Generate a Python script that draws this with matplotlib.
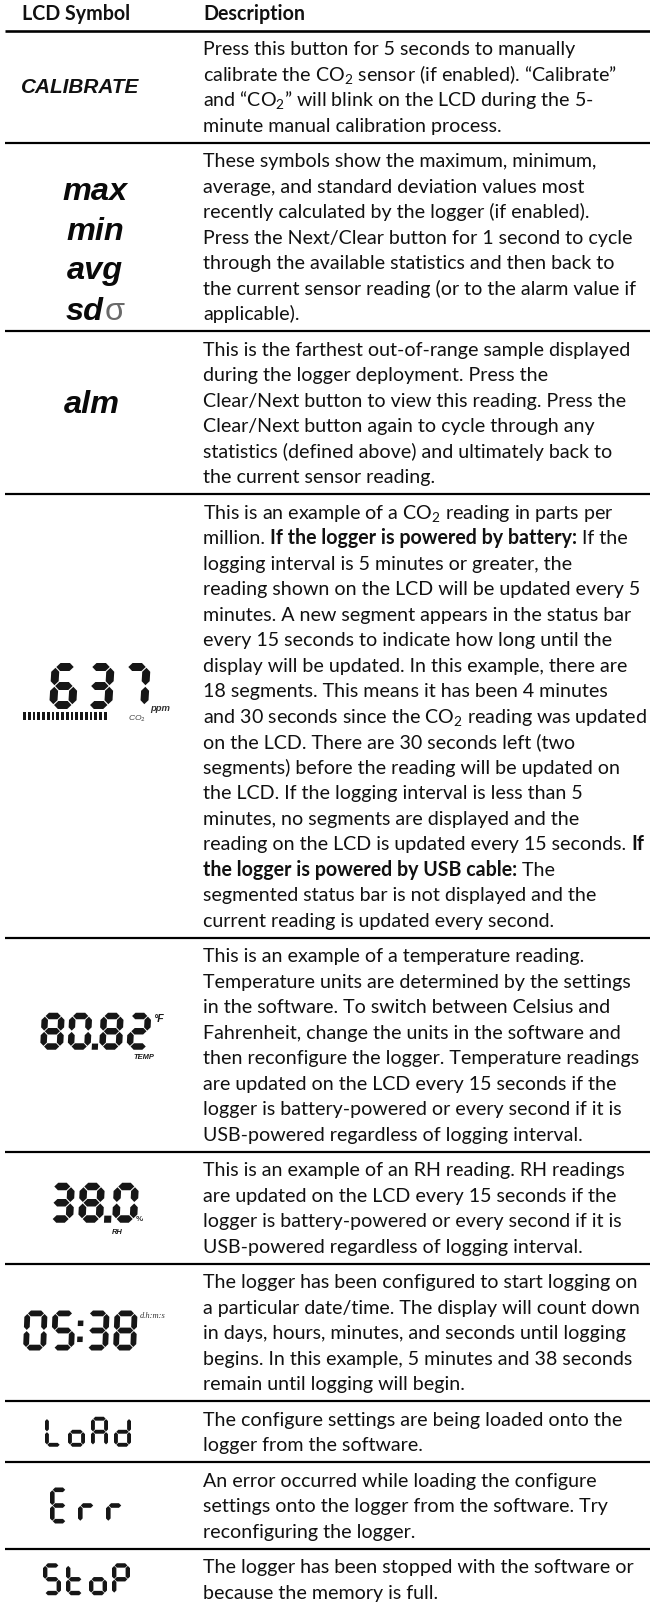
import matplotlib
matplotlib.use("Agg")
import matplotlib.pyplot as plt
from matplotlib.patches import Polygon, Rectangle

# ---------------- data ----------------
header = ["LCD Symbol", "Description"]

calibrate_label = "CALIBRATE"
stat_labels = ["max", "min", "avg", "sd"]
sigma_label = "σ"
alarm_label = "alm"
co2_reading = "637"
co2_status_segments = 18
temp_reading = "80.82"
rh_reading = "38.0"
countdown_reading = "05:38"
status_words = ["LoAd", "Err", "StoP"]

desc_calibrate = [
    "Press this button for 5 seconds to manually",
    "calibrate the CO$_\\mathrm{2}$ sensor (if enabled). “Calibrate”",
    "and “CO$_\\mathrm{2}$” will blink on the LCD during the 5-",
    "minute manual calibration process.",
]
desc_stats = [
    "These symbols show the maximum, minimum,",
    "average, and standard deviation values most",
    "recently calculated by the logger (if enabled).",
    "Press the Next/Clear button for 1 second to cycle",
    "through the available statistics and then back to",
    "the current sensor reading (or to the alarm value if",
    "applicable).",
]
desc_alarm = [
    "This is the farthest out-of-range sample displayed",
    "during the logger deployment. Press the",
    "Clear/Next button to view this reading. Press the",
    "Clear/Next button again to cycle through any",
    "statistics (defined above) and ultimately back to",
    "the current sensor reading.",
]
desc_co2 = [
    "This is an example of a CO$_\\mathrm{2}$ reading in parts per",
    "million. **If the logger is powered by battery:** If the",
    "logging interval is 5 minutes or greater, the",
    "reading shown on the LCD will be updated every 5",
    "minutes. A new segment appears in the status bar",
    "every 15 seconds to indicate how long until the",
    "display will be updated. In this example, there are",
    "18 segments. This means it has been 4 minutes",
    "and 30 seconds since the CO$_\\mathrm{2}$ reading was updated",
    "on the LCD. There are 30 seconds left (two",
    "segments) before the reading will be updated on",
    "the LCD. If the logging interval is less than 5",
    "minutes, no segments are displayed and the",
    "reading on the LCD is updated every 15 seconds. **If**",
    "**the logger is powered by USB cable:** The",
    "segmented status bar is not displayed and the",
    "current reading is updated every second.",
]
desc_temp = [
    "This is an example of a temperature reading.",
    "Temperature units are determined by the settings",
    "in the software. To switch between Celsius and",
    "Fahrenheit, change the units in the software and",
    "then reconfigure the logger. Temperature readings",
    "are updated on the LCD every 15 seconds if the",
    "logger is battery-powered or every second if it is",
    "USB-powered regardless of logging interval.",
]
desc_rh = [
    "This is an example of an RH reading. RH readings",
    "are updated on the LCD every 15 seconds if the",
    "logger is battery-powered or every second if it is",
    "USB-powered regardless of logging interval.",
]
desc_countdown = [
    "The logger has been configured to start logging on",
    "a particular date/time. The display will count down",
    "in days, hours, minutes, and seconds until logging",
    "begins. In this example, 5 minutes and 38 seconds",
    "remain until logging will begin.",
]
desc_load = [
    "The configure settings are being loaded onto the",
    "logger from the software.",
]
desc_err = [
    "An error occurred while loading the configure",
    "settings onto the logger from the software. Try",
    "reconfiguring the logger.",
]
desc_stop = [
    "The logger has been stopped with the software or",
    "because the memory is full.",
]
descriptions = [desc_calibrate, desc_stats, desc_alarm, desc_co2, desc_temp,
                desc_rh, desc_countdown, desc_load, desc_err, desc_stop]

# ---------------- style ----------------
W, H, DPI = 650, 1606, 100
BODY = "Lato"
SYMF = "Liberation Sans"
TXT = "#111111"
LCD = "#161616"
PITCH = 25.5
GAP = 10.0
HEADER_CY = 14.0
X_SYM = 22
X_DESC = 203
DESC_WIDTH = 445

plt.rcParams["mathtext.fontset"] = "custom"
plt.rcParams["mathtext.rm"] = BODY
plt.rcParams["mathtext.it"] = BODY + ":italic"
plt.rcParams["mathtext.bf"] = BODY + ":bold"

fig = plt.figure(figsize=(W / DPI, H / DPI), dpi=DPI)
ax = fig.add_axes([0, 0, 1, 1])
ax.set_xlim(0, W)
ax.set_ylim(H, 0)
ax.axis("off")
renderer = fig.canvas.get_renderer()


def px2pt(px):
    return px * 72.0 / DPI


def text_w(s, size, weight="normal", family=BODY, style="normal"):
    t = ax.text(0, 0, s, fontsize=size, fontweight=weight, family=family, fontstyle=style)
    w = t.get_window_extent(renderer).width
    t.remove()
    return w


def run_w(s, size, weight):
    return text_w("|" + s + "|", size, weight) - text_w("||", size, weight)


# fit body font so the widest line fills the description column
all_lines = [ln.replace("**", "") for d in descriptions for ln in d]
test = 14.0
maxw = max(text_w(ln, test) for ln in all_lines)
FS = test * DESC_WIDTH / maxw
FS_PX = FS * DPI / 72.0


def baseline(cy):
    return cy + 0.30 * FS_PX


def draw_line(x, cy, line):
    parts = line.split("**")
    y = baseline(cy)
    for i, part in enumerate(parts):
        if not part:
            continue
        weight = "bold" if i % 2 == 1 else "normal"
        ax.text(x, y, part, fontsize=FS, fontweight=weight, family=BODY,
                va="baseline", ha="left", color=TXT)
        x += run_w(part, FS, weight)


def hline(y, lw_px=2.2):
    ax.plot([5, W], [y, y], color="black", lw=lw_px * 72 / DPI, solid_capstyle="butt")


# ---------------- seven segment ----------------
SEGS = {"0": "abcdef", "1": "bc", "2": "abdeg", "3": "abcdg", "4": "bcfg", "5": "acdfg",
        "6": "acdefg", "7": "abc", "8": "abcdefg", "9": "abcdfg", "L": "def", "o": "cdeg",
        "A": "abcefg", "d": "bcdeg", "E": "adefg", "r": "eg", "S": "acdfg", "t": "defg",
        "P": "abefg"}


def hseg(xa, xb, yc, t):
    return [(xa, yc), (xa + t / 2, yc - t / 2), (xb - t / 2, yc - t / 2), (xb, yc),
            (xb - t / 2, yc + t / 2), (xa + t / 2, yc + t / 2)]


def vseg(xc, ya, yb, t):
    return [(xc, ya), (xc + t / 2, ya + t / 2), (xc + t / 2, yb - t / 2), (xc, yb),
            (xc - t / 2, yb - t / 2), (xc - t / 2, ya + t / 2)]


def draw_lcd(text, x0, ytop, w, h, t, pitch, slant=0.0, dot_adv=4.0, gap=None):
    gap = t * 0.10 if gap is None else gap
    ybot = ytop + h

    def sk(pts):
        return [(px + slant * (ybot - py), py) for px, py in pts]

    x = x0
    for ch in text:
        if ch in ".:":
            gx0 = x - (pitch - w)
            gx1 = x + dot_adv
            cx = (gx0 + gx1) / 2
            d = t * 0.95
            ys = [ybot - d / 2] if ch == "." else [ytop + h * 0.32, ytop + h * 0.72]
            for yy in ys:
                sq = [(cx - d / 2, yy - d / 2), (cx + d / 2, yy - d / 2),
                      (cx + d / 2, yy + d / 2), (cx - d / 2, yy + d / 2)]
                ax.add_patch(Polygon(sk(sq), closed=True, fc=LCD, lw=0))
            x += dot_adv
            continue
        xl = x + t / 2
        xr = x + w - t / 2
        yt = ytop + t / 2
        ym = ytop + h / 2
        yb = ybot - t / 2
        geo = {
            "a": hseg(xl + gap, xr - gap, yt, t),
            "b": vseg(xr, yt + gap, ym - gap, t),
            "c": vseg(xr, ym + gap, yb - gap, t),
            "d": hseg(xl + gap, xr - gap, yb, t),
            "e": vseg(xl, ym + gap, yb - gap, t),
            "f": vseg(xl, yt + gap, ym - gap, t),
            "g": hseg(xl + gap, xr - gap, ym, t),
        }
        for s in SEGS[ch]:
            ax.add_patch(Polygon(sk(geo[s]), closed=True, fc=LCD, lw=0))
        x += pitch


# ---------------- layout ----------------
ax.text(X_SYM, baseline(HEADER_CY), header[0], fontsize=FS, fontweight="bold",
        family=BODY, va="baseline", color=TXT)
ax.text(X_DESC, baseline(HEADER_CY), header[1], fontsize=FS, fontweight="bold",
        family=BODY, va="baseline", color=TXT)
y = HEADER_CY + PITCH / 2 + GAP / 2
hline(y, 2.6)

row_centers = []
for d in descriptions:
    top = y
    cy = top + GAP / 2 + PITCH / 2
    for ln in d:
        draw_line(X_DESC, cy, ln)
        cy += PITCH
    y = top + len(d) * PITCH + GAP
    row_centers.append((top + y) / 2)
    if d is not descriptions[-1]:
        hline(y)

rc = row_centers
SYM_COL = "#0a0a0a"

# CALIBRATE
ax.text(80, rc[0], calibrate_label, fontsize=px2pt(20.8), fontweight="bold",
        fontstyle="italic", family=SYMF, ha="center", va="center", color="#111111")

# statistics
stat_size = px2pt(32.5)
for i, lab in enumerate(stat_labels):
    cy = rc[1] + 10 + (i - 1.5) * 40
    if lab == "sd":
        w1 = text_w(lab, stat_size, "bold", SYMF, "italic")
        w2 = text_w(sigma_label, stat_size, "normal", SYMF)
        x0 = 95 - (w1 + w2) / 2
        ax.text(x0, cy, lab, fontsize=stat_size, fontweight="bold", fontstyle="italic",
                family=SYMF, ha="left", va="center_baseline", color=SYM_COL)
        ax.text(x0 + w1 + 1, cy, sigma_label, fontsize=stat_size, family=SYMF,
                ha="left", va="center_baseline", color="#6a6a6a")
    else:
        ax.text(95, cy, lab, fontsize=stat_size, fontweight="bold", fontstyle="italic",
                family=SYMF, ha="center", va="center_baseline", color=SYM_COL)

# alm
ax.text(92, rc[2] - 12, alarm_label, fontsize=stat_size, fontweight="bold",
        fontstyle="italic", family=SYMF, ha="center", va="center_baseline", color=SYM_COL)

# CO2 reading
c = rc[3]
draw_lcd(co2_reading, 49, c - 53, 27, 46, 8.0, 36, slant=0.06)
for k in range(co2_status_segments):
    ax.add_patch(Rectangle((23 + k * 4.75, c - 4), 2.8, 7.5, fc=LCD, lw=0))
ax.text(150, c - 6, "ppm", fontsize=px2pt(9.5), fontweight="bold", fontstyle="italic",
        family=SYMF, ha="left", va="baseline", color="#333333")
ax.text(128, c + 4, "CO$_\\mathrm{2}$", fontsize=px2pt(8.5), fontstyle="italic",
        family=SYMF, ha="left", va="baseline", color="#444444")

# temperature
c = rc[4] - 13
draw_lcd(temp_reading, 40, c - 19, 23, 37, 6.5, 27.5, slant=0.05, dot_adv=4)
ax.text(153, c - 19, "°F", fontsize=px2pt(10.5), fontweight="bold", fontstyle="italic",
        family=SYMF, ha="left", va="top", color="#1a1a1a")
ax.text(133, c + 21, "TEMP", fontsize=px2pt(7.5), fontweight="bold", fontstyle="italic",
        family=SYMF, ha="left", va="top", color="#1a1a1a")

# RH
c = rc[5] - 5
draw_lcd(rh_reading, 48, c - 20, 25, 40, 7.5, 30, slant=0.05, dot_adv=4)
ax.text(136, c + 17, "%", fontsize=px2pt(8), fontweight="bold", family=SYMF,
        ha="left", va="baseline", color="#333333")
ax.text(112, c + 30, "RH", fontsize=px2pt(7.5), fontweight="bold", fontstyle="italic",
        family=SYMF, ha="left", va="baseline", color="#1a1a1a")

# countdown
c = rc[6] - 2
draw_lcd(countdown_reading, 23, c - 20, 23, 40, 5.8, 28, slant=0.04, dot_adv=6)
ax.text(140, c - 19, "d.h:m:s", fontsize=px2pt(8.5), fontstyle="italic",
        family="Liberation Serif", ha="left", va="top", color="#333333")

# status words
c = rc[7]
draw_lcd(status_words[0], 45, c - 15, 17, 30, 3.9, 23)
c = rc[8]
draw_lcd(status_words[1], 50, c - 18, 18, 36, 4.6, 28)
c = rc[9]
draw_lcd(status_words[2], 43, c - 16, 18, 32, 4.4, 23)

fig.savefig("out.png", dpi=DPI, facecolor="white")
